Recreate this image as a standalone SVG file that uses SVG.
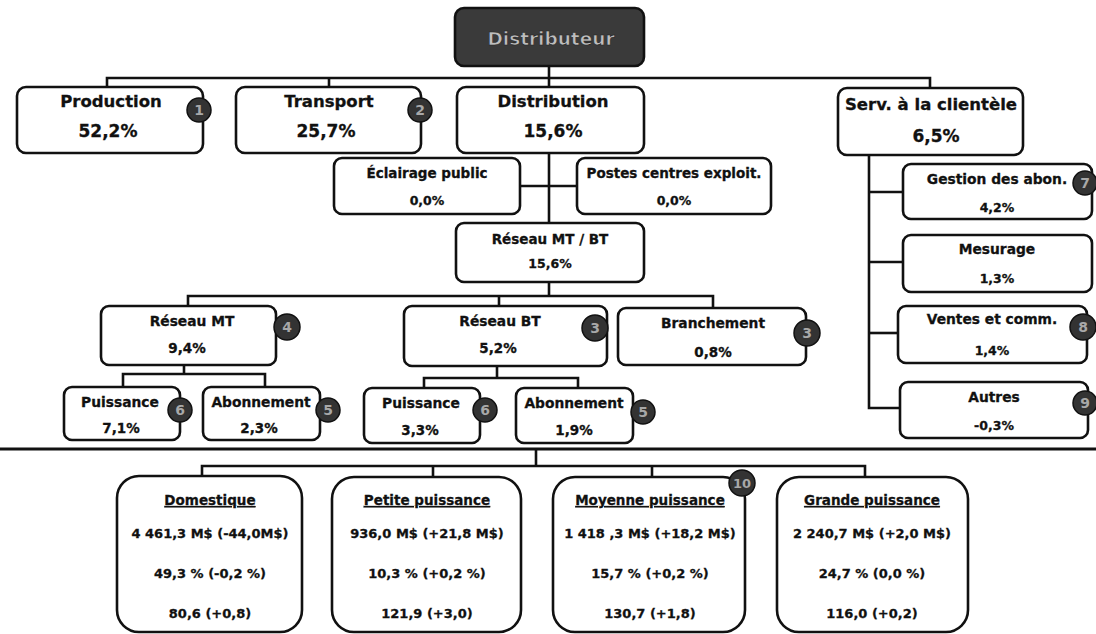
<svg xmlns="http://www.w3.org/2000/svg" width="1096" height="634" viewBox="0 0 1096 634">
<style>
.bg{fill:#ffffff}
.box{fill:#ffffff;stroke:#111;stroke-width:2.6}
.root{fill:#3a3a3a;stroke:#111;stroke-width:2.6}
.conn{stroke:#111;stroke-width:2.6;fill:none}
.sep{stroke:#111;stroke-width:3;fill:none}
text{font-family:"DejaVu Sans","Liberation Sans",sans-serif;font-weight:bold;fill:#111;stroke:#111;stroke-width:0.3;text-anchor:middle}
.rt{font-size:18.5px;fill:#bdbdbd;stroke:#222;stroke-width:0.6}
.l1{font-size:16.5px}
.v1{font-size:17px}
.l2{font-size:13.5px}
.v2{font-size:12.5px}
.l3{font-size:13.8px}
.v3{font-size:13.5px}
.u{font-size:13.5px;text-decoration:underline}
.b4{font-size:13px}
.bd circle{fill:#333;stroke:#111;stroke-width:1.5}
.bd text{font-size:14px;fill:#a8a8a8;stroke:none}
</style>
<rect class="bg" x="0" y="0" width="1096" height="634"/>

<g id="connectors">
  <path class="conn" d="M549 66 V87"/>
  <path class="conn" d="M107 87 V78 H930 V88"/>
  <path class="conn" d="M329 78 V87"/>
  <path class="conn" d="M549 153 V223"/>
  <path class="conn" d="M520 186 H577"/>
  <path class="conn" d="M549 282 V296"/>
  <path class="conn" d="M188 306 V296 H713 V308"/>
  <path class="conn" d="M499 296 V306"/>
  <path class="conn" d="M184 365 V374"/>
  <path class="conn" d="M123 387 V374 H265 V387"/>
  <path class="conn" d="M497 366 V378"/>
  <path class="conn" d="M424 388 V378 H578 V388"/>
  <path class="conn" d="M869 155 V408 H900"/>
  <path class="conn" d="M869 192 H903"/>
  <path class="conn" d="M869 262 H903"/>
  <path class="conn" d="M869 333 H898"/>
  <path class="sep" d="M0 449 H1096"/>
  <path class="conn" d="M536 449 V466"/>
  <path class="conn" d="M202 476 V466 H865 V477"/>
  <path class="conn" d="M433 466 V477"/>
  <path class="conn" d="M652 466 V477"/>
</g>

<g id="distributeur">
  <rect class="root" x="455" y="8" width="189" height="58" rx="9"/>
  <text class="rt" x="551" y="45">Distributeur</text>
</g>

<g id="production">
  <rect class="box" x="17" y="87" width="186" height="66" rx="9"/>
  <text class="l1" x="111" y="107">Production</text>
  <text class="v1" x="108" y="137">52,2%</text>
  <g class="bd"><circle cx="199" cy="110" r="12"/><text x="199" y="115">1</text></g>
</g>

<g id="transport">
  <rect class="box" x="236" y="87" width="185" height="66" rx="9"/>
  <text class="l1" x="329" y="107">Transport</text>
  <text class="v1" x="326" y="137">25,7%</text>
  <g class="bd"><circle cx="420" cy="110" r="12"/><text x="420" y="115">2</text></g>
</g>

<g id="distribution">
  <rect class="box" x="457" y="87" width="187" height="66" rx="9"/>
  <text class="l1" x="553" y="107">Distribution</text>
  <text class="v1" x="553" y="137">15,6%</text>
</g>

<g id="serv-clientele">
  <rect class="box" x="838" y="88" width="185" height="67" rx="9"/>
  <text class="l1" x="931" y="110">Serv. à la clientèle</text>
  <text class="v1" x="936" y="142">6,5%</text>
</g>

<g id="eclairage">
  <rect class="box" x="334" y="158" width="186" height="56" rx="8"/>
  <text class="l2" x="427" y="178">Éclairage public</text>
  <text class="v2" x="427" y="205">0,0%</text>
</g>

<g id="postes">
  <rect class="box" x="577" y="158" width="194" height="56" rx="8"/>
  <text class="l2" x="674" y="178">Postes centres exploit.</text>
  <text class="v2" x="674" y="205">0,0%</text>
</g>

<g id="reseau-mtbt">
  <rect class="box" x="456" y="223" width="188" height="59" rx="8"/>
  <text class="l2" x="550" y="244">Réseau MT / BT</text>
  <text class="v2" x="550" y="268">15,6%</text>
</g>

<g id="reseau-mt">
  <rect class="box" x="101" y="306" width="175" height="59" rx="8"/>
  <text class="l3" x="192" y="326">Réseau MT</text>
  <text class="v3" x="187" y="353">9,4%</text>
  <g class="bd"><circle cx="287" cy="327" r="13"/><text x="287" y="332">4</text></g>
</g>

<g id="reseau-bt">
  <rect class="box" x="404" y="306" width="203" height="60" rx="8"/>
  <text class="l3" x="500" y="326">Réseau BT</text>
  <text class="v3" x="498" y="353">5,2%</text>
  <g class="bd"><circle cx="595" cy="328" r="13"/><text x="595" y="333">3</text></g>
</g>

<g id="branchement">
  <rect class="box" x="618" y="308" width="188" height="57" rx="8"/>
  <text class="l3" x="713" y="328">Branchement</text>
  <text class="v3" x="713" y="357">0,8%</text>
  <g class="bd"><circle cx="807" cy="333" r="13"/><text x="807" y="338">3</text></g>
</g>

<g id="puissance-mt">
  <rect class="box" x="64" y="387" width="116" height="53" rx="8"/>
  <text class="l3" x="120" y="407">Puissance</text>
  <text class="v3" x="121" y="433">7,1%</text>
  <g class="bd"><circle cx="180" cy="410" r="12"/><text x="180" y="415">6</text></g>
</g>

<g id="abonnement-mt">
  <rect class="box" x="203" y="387" width="117" height="53" rx="8"/>
  <text class="l3" x="261" y="407">Abonnement</text>
  <text class="v3" x="259" y="433">2,3%</text>
  <g class="bd"><circle cx="328" cy="410" r="12"/><text x="328" y="415">5</text></g>
</g>

<g id="puissance-bt">
  <rect class="box" x="364" y="388" width="116" height="55" rx="8"/>
  <text class="l3" x="421" y="408">Puissance</text>
  <text class="v3" x="420" y="435">3,3%</text>
  <g class="bd"><circle cx="485" cy="410" r="12"/><text x="485" y="415">6</text></g>
</g>

<g id="abonnement-bt">
  <rect class="box" x="516" y="388" width="117" height="55" rx="8"/>
  <text class="l3" x="574" y="408">Abonnement</text>
  <text class="v3" x="574" y="435">1,9%</text>
  <g class="bd"><circle cx="643" cy="412" r="12"/><text x="643" y="417">5</text></g>
</g>

<g id="gestion-abon">
  <rect class="box" x="903" y="164" width="189" height="55" rx="8"/>
  <text class="l3" x="997" y="184">Gestion des abon.</text>
  <text class="v2" x="997" y="212">4,2%</text>
  <g class="bd"><circle cx="1085" cy="183" r="12"/><text x="1085" y="188">7</text></g>
</g>

<g id="mesurage">
  <rect class="box" x="903" y="235" width="189" height="57" rx="8"/>
  <text class="l3" x="997" y="254">Mesurage</text>
  <text class="v2" x="997" y="283">1,3%</text>
</g>

<g id="ventes-comm">
  <rect class="box" x="898" y="306" width="189" height="57" rx="8"/>
  <text class="l3" x="992" y="324">Ventes et comm.</text>
  <text class="v2" x="992" y="355">1,4%</text>
  <g class="bd"><circle cx="1083" cy="327" r="13"/><text x="1083" y="332">8</text></g>
</g>

<g id="autres">
  <rect class="box" x="900" y="382" width="188" height="56" rx="8"/>
  <text class="l3" x="994" y="402">Autres</text>
  <text class="v2" x="994" y="430">-0,3%</text>
  <g class="bd"><circle cx="1085" cy="403" r="12"/><text x="1085" y="408">9</text></g>
</g>

<g id="domestique">
  <rect class="box" x="117" y="476" width="185" height="156" rx="22"/>
  <text class="u" x="210" y="505">Domestique</text>
  <text class="b4" x="210" y="538">4 461,3 M$ (-44,0M$)</text>
  <text class="b4" x="210" y="578">49,3 %  (-0,2 %)</text>
  <text class="b4" x="210" y="618">80,6 (+0,8)</text>
</g>

<g id="petite-puissance">
  <rect class="box" x="332" y="477" width="189" height="155" rx="22"/>
  <text class="u" x="427" y="505">Petite puissance</text>
  <text class="b4" x="427" y="538">936,0 M$ (+21,8 M$)</text>
  <text class="b4" x="427" y="578">10,3 % (+0,2 %)</text>
  <text class="b4" x="427" y="618">121,9 (+3,0)</text>
</g>

<g id="moyenne-puissance">
  <rect class="box" x="553" y="477" width="192" height="155" rx="22"/>
  <text class="u" x="650" y="505">Moyenne puissance</text>
  <text class="b4" x="650" y="538">1 418 ,3 M$ (+18,2 M$)</text>
  <text class="b4" x="650" y="578">15,7 % (+0,2 %)</text>
  <text class="b4" x="650" y="618">130,7 (+1,8)</text>
  <g class="bd"><circle cx="742" cy="483" r="13"/><text x="742" y="488" style="font-size:13px">10</text></g>
</g>

<g id="grande-puissance">
  <rect class="box" x="777" y="477" width="191" height="155" rx="22"/>
  <text class="u" x="872" y="505">Grande puissance</text>
  <text class="b4" x="872" y="538">2 240,7 M$ (+2,0 M$)</text>
  <text class="b4" x="872" y="578">24,7 % (0,0 %)</text>
  <text class="b4" x="872" y="618">116,0 (+0,2)</text>
</g>
</svg>
